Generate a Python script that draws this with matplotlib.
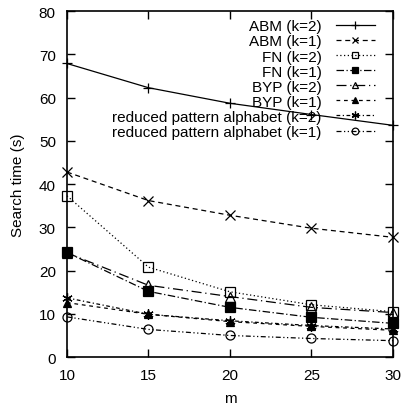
import matplotlib
matplotlib.use("Agg")
import matplotlib.pyplot as plt

plt.rcParams['font.family'] = ['Liberation Sans', 'DejaVu Sans']

m = [10, 15, 20, 25, 30]
abm_k2 = [67.9, 62.3, 58.7, 56.1, 53.6]
abm_k1 = [42.8, 36.2, 32.8, 29.8, 27.7]
fn_k2 = [37.3, 20.8, 15.1, 12.1, 10.5]
fn_k1 = [24.2, 15.2, 11.5, 9.2, 7.8]
byp_k2 = [24.1, 16.6, 14.0, 11.5, 10.3]
byp_k1 = [12.6, 9.9, 8.2, 7.1, 6.2]
red_k2 = [13.7, 9.9, 8.4, 7.3, 6.5]
red_k1 = [9.3, 6.4, 5.0, 4.3, 3.8]

labels = ["ABM (k=2)", "ABM (k=1)", "FN (k=2)", "FN (k=1)",
          "BYP (k=2)", "BYP (k=1)",
          "reduced pattern alphabet (k=2)", "reduced pattern alphabet (k=1)"]
series = [abm_k2, abm_k1, fn_k2, fn_k1, byp_k2, byp_k1, red_k2, red_k1]

styles = [
    dict(ls='-', marker='+', mfc='none', ms=7),
    dict(ls=(0, (4, 3)), marker='x', mfc='none', ms=6.5),
    dict(ls=(0, (1, 2)), marker='s', mfc='none', ms=6.5),
    dict(ls=(0, (6, 2, 1, 2)), marker='s', mfc='black', ms=6.5),
    dict(ls=(0, (8, 3, 1, 3)), marker='^', mfc='none', ms=6.5),
    dict(ls=(0, (3, 3)), marker='^', mfc='black', ms=5.5),
    dict(ls=(0, (3, 2, 1, 2)), marker=(6, 2, 0), mfc='none', ms=7.5),
    dict(ls=(0, (4, 2, 1, 2, 1, 2)), marker='o', mfc='none', ms=6.5),
]

fig = plt.figure(figsize=(4.01, 4.06), dpi=100)
ax = fig.add_axes([0.167, 0.118, 0.813, 0.852])

for lab, ys, st in zip(labels, series, styles):
    ax.plot(m, ys, color='black', lw=0.9, mew=0.9, label=lab, clip_on=False, **st)

ax.set_xlim(10, 30)
ax.set_ylim(0, 80)
ax.set_xticks(m)
ax.set_yticks(range(0, 81, 10))
ax.tick_params(direction='in', length=6, width=1, top=True, right=True,
               labelsize=11, pad=8)
for sp in ax.spines.values():
    sp.set_linewidth(1.2)

ax.set_xlabel("m", fontsize=11, labelpad=6)
ax.set_ylabel("Search time (s)", fontsize=11, labelpad=10)

leg = ax.legend(loc='upper right', bbox_to_anchor=(0.955, 0.985),
                markerfirst=False, frameon=False, markerscale=0.75,
                fontsize=11, labelspacing=0.07, handlelength=2.6,
                handletextpad=0.9, borderaxespad=0, borderpad=0.2)

fig.savefig("out.png", dpi=100)
